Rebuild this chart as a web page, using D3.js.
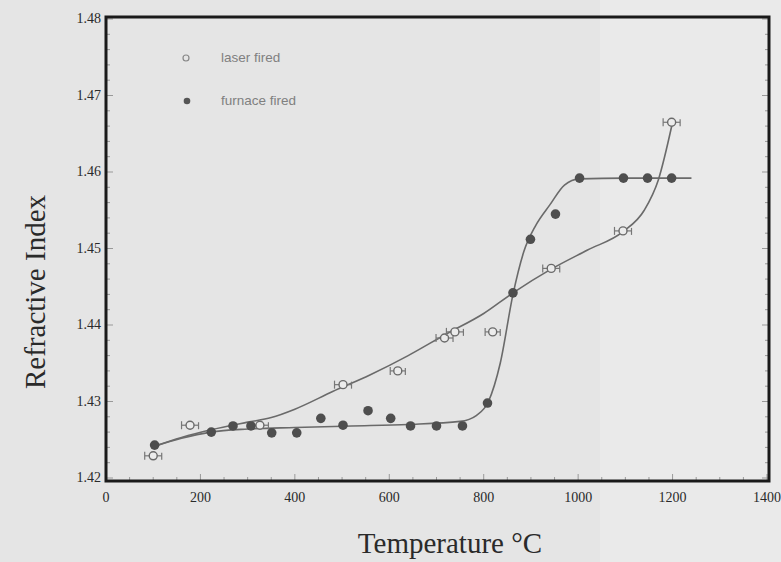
<!DOCTYPE html>
<html>
<head>
<meta charset="utf-8">
<script src="https://cdn.jsdelivr.net/npm/d3@7"></script>
<style>
  body { margin: 0; background: #e5e5e5; }
  svg { display: block; }
  .tick-label { font-family: "Liberation Serif", "Times New Roman", serif; font-size: 14px; fill: #2a2a2a; }
  .axis-title { font-family: "Liberation Serif", "Times New Roman", serif; font-size: 29px; fill: #2a2a2a; }
  .legend-text { font-family: "Liberation Sans", Arial, sans-serif; font-size: 13.5px; fill: #808080; }
</style>
</head>
<body>
<svg id="chart" width="781" height="562"></svg>
<script>
// Measured points
const laserTemp  = [100, 178, 326, 502, 618, 717, 739, 819, 943, 1095, 1198];
const laserIndex = [1.4229, 1.4269, 1.4269, 1.4322, 1.4340, 1.4383, 1.4391, 1.4391, 1.4474, 1.4523, 1.4665];
const laserErr   = [18, 18, 18, 18, 16, 18, 18, 16, 18, 18, 18];

const furnaceTemp  = [103, 223, 269, 307, 351, 404, 455, 502, 555, 603, 645, 700, 755, 808, 862, 899, 952, 1003, 1096, 1147, 1198];
const furnaceIndex = [1.4243, 1.4260, 1.4268, 1.4268, 1.4259, 1.4259, 1.4278, 1.4269, 1.4288, 1.4278, 1.4268, 1.4268, 1.4268, 1.4298, 1.4442, 1.4512, 1.4545, 1.4592, 1.4592, 1.4592, 1.4592];

// Fitted curves
const laserFitTemp  = [100, 160, 222, 300, 350, 400, 480, 560, 640, 720, 800, 862, 940, 1020, 1095, 1140, 1170, 1200];
const laserFitIndex = [1.4241, 1.4253, 1.4263, 1.4273, 1.4279, 1.4290, 1.4313, 1.4335, 1.4360, 1.4388, 1.4415, 1.4442, 1.4472, 1.4498, 1.4522, 1.4550, 1.4590, 1.4665];

const furnaceFitTemp  = [100, 160, 222, 300, 400, 520, 640, 750, 785, 810, 835, 862, 885, 910, 940, 971, 1003, 1100, 1240];
const furnaceFitIndex = [1.4241, 1.4252, 1.4260, 1.4264, 1.4266, 1.4268, 1.4270, 1.4274, 1.4282, 1.4300, 1.4350, 1.4440, 1.4496, 1.4530, 1.4557, 1.4583, 1.4591, 1.4592, 1.4592];

const xTicks = [0, 200, 400, 600, 800, 1000, 1200, 1400];
const yTicks = [1.42, 1.43, 1.44, 1.45, 1.46, 1.47, 1.48];

const svg = d3.select("#chart");
const frameL = 106, frameR = 769, frameT = 17, frameB = 481;

const x = d3.scaleLinear().domain([0, 1400]).range([frameL, frameR - 2]);
const y = d3.scaleLinear().domain([1.42, 1.48]).range([frameB - 3, frameT + 2]);

// lighter paper band on the right side of the scan
svg.append("rect").attr("x", 600).attr("y", 0).attr("width", 181).attr("height", 562)
  .attr("fill", "#eaeaea");

// minor ticks (inside the frame)
const g = svg.append("g");
d3.range(0, 1401, 50).forEach(t => {
  g.append("line").attr("x1", x(t)).attr("x2", x(t)).attr("y1", frameB).attr("y2", frameB - (t % 200 === 0 ? 7 : 4))
    .attr("stroke", "#999").attr("stroke-width", 1);
});
d3.range(1.42, 1.4801, 0.002).forEach(t => {
  const len = Math.abs(Math.round(t * 1000) % 10) === 0 ? 7 : 4;
  g.append("line").attr("x1", frameL).attr("x2", frameL + len).attr("y1", y(t)).attr("y2", y(t))
    .attr("stroke", "#999").attr("stroke-width", 1);
  g.append("line").attr("x1", frameR).attr("x2", frameR - len).attr("y1", y(t)).attr("y2", y(t))
    .attr("stroke", "#999").attr("stroke-width", 1);
});

// frame
svg.append("rect").attr("x", frameL).attr("y", frameT).attr("width", frameR - frameL).attr("height", frameB - frameT)
  .attr("fill", "none").attr("stroke", "#1a1a1a").attr("stroke-width", 3);

// tick labels
svg.selectAll(".xl").data(xTicks).join("text").attr("class", "tick-label")
  .attr("x", d => x(d)).attr("y", 502).attr("text-anchor", "middle").text(d => d);
svg.selectAll(".yl").data(yTicks).join("text").attr("class", "tick-label")
  .attr("x", 101).attr("y", d => y(d) + 4).attr("text-anchor", "end").text(d => d3.format(".2f")(d));

// axis titles
svg.append("text").attr("class", "axis-title").attr("x", 450).attr("y", 553).attr("text-anchor", "middle")
  .text("Temperature \u00B0C");
svg.append("text").attr("class", "axis-title").attr("transform", "translate(45,292) rotate(-90)")
  .attr("text-anchor", "middle").text("Refractive Index");

// fitted curves
const line = d3.line().x(d => x(d[0])).y(d => y(d[1])).curve(d3.curveMonotoneX);
svg.append("path").datum(d3.zip(laserFitTemp, laserFitIndex)).attr("d", line)
  .attr("fill", "none").attr("stroke", "#6a6a6a").attr("stroke-width", 1.6);
svg.append("path").datum(d3.zip(furnaceFitTemp, furnaceFitIndex)).attr("d", line)
  .attr("fill", "none").attr("stroke", "#6a6a6a").attr("stroke-width", 1.6);

// laser fired: open circles with horizontal error bars
const laser = laserTemp.map((t, i) => ({ t, v: laserIndex[i], e: laserErr[i] }));
const lg = svg.append("g").selectAll("g").data(laser).join("g");
lg.append("line").attr("x1", d => x(d.t - d.e)).attr("x2", d => x(d.t + d.e))
  .attr("y1", d => y(d.v)).attr("y2", d => y(d.v)).attr("stroke", "#777").attr("stroke-width", 1.2);
lg.append("line").attr("x1", d => x(d.t - d.e)).attr("x2", d => x(d.t - d.e))
  .attr("y1", d => y(d.v) - 4).attr("y2", d => y(d.v) + 4).attr("stroke", "#777").attr("stroke-width", 1.2);
lg.append("line").attr("x1", d => x(d.t + d.e)).attr("x2", d => x(d.t + d.e))
  .attr("y1", d => y(d.v) - 3).attr("y2", d => y(d.v) + 4).attr("stroke", "#777").attr("stroke-width", 1.2);
lg.append("circle").attr("cx", d => x(d.t)).attr("cy", d => y(d.v)).attr("r", 4)
  .attr("fill", "#ececec").attr("stroke", "#6a6a6a").attr("stroke-width", 1.4);

// furnace fired: filled circles
svg.append("g").selectAll("circle").data(d3.zip(furnaceTemp, furnaceIndex)).join("circle")
  .attr("cx", d => x(d[0])).attr("cy", d => y(d[1])).attr("r", 4.8).attr("fill", "#4e4e4e");

// legend
svg.append("circle").attr("cx", 186).attr("cy", 58).attr("r", 3).attr("fill", "none")
  .attr("stroke", "#888").attr("stroke-width", 1.2);
svg.append("text").attr("class", "legend-text").attr("x", 221).attr("y", 62).text("laser fired");
svg.append("circle").attr("cx", 187).attr("cy", 101).attr("r", 3.3).attr("fill", "#555");
svg.append("text").attr("class", "legend-text").attr("x", 221).attr("y", 105).text("furnace fired");
</script>
</body>
</html>
